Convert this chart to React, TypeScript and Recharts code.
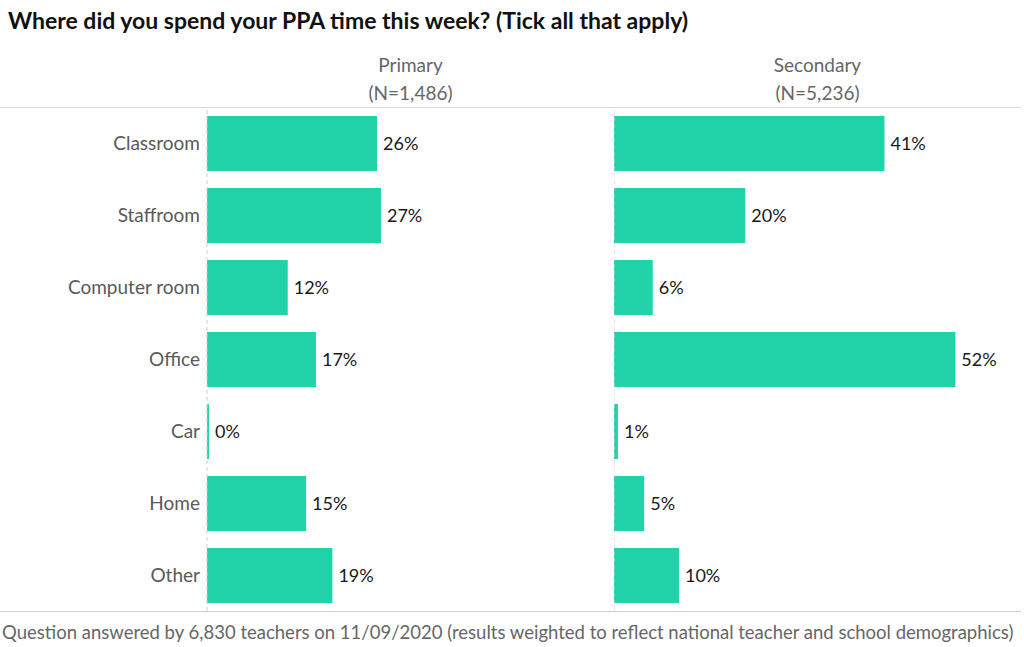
import React from 'react';
import { BarChart, Bar, XAxis, YAxis, LabelList, ReferenceLine } from 'recharts';

const categories = ['Classroom', 'Staffroom', 'Computer room', 'Office', 'Car', 'Home', 'Other'];
const primaryValues = [25.9, 26.5, 12.3, 16.6, 0.3, 15.1, 19.1];
const secondaryValues = [41.2, 20.0, 5.9, 52.0, 0.6, 4.6, 9.9];

const primaryData = categories.map((name, i) => ({ name, value: primaryValues[i] }));
const secondaryData = categories.map((name, i) => ({ name, value: secondaryValues[i] }));

const FONT = 'Lato, "Open Sans", sans-serif';
const GREEN = '#20d3a8';

const pct = (v: any) => `${Math.round(Number(v))}%`;

const Panel = ({ data, showAxis, width }: { data: any[]; showAxis: boolean; width: number }) => (
  <BarChart
    width={width}
    height={504}
    data={data}
    layout="vertical"
    margin={{ top: 0, right: 0, bottom: 0, left: 0 }}
    barSize={55}
  >
    <XAxis type="number" domain={[0, 62]} hide />
    <YAxis
      type="category"
      dataKey="name"
      width={showAxis ? 207 : 0}
      hide={!showAxis}
      axisLine={false}
      tickLine={false}
      tickMargin={1}
      tick={{ fill: '#595959', fontSize: 19, fontFamily: FONT }}
    />
    <ReferenceLine x={0} stroke="#cfcfcf" strokeDasharray="4 3" />
    <Bar dataKey="value" fill={GREEN} isAnimationActive={false}>
      <LabelList
        dataKey="value"
        position="right"
        offset={6}
        formatter={pct}
        style={{ fill: '#1a1a1a', fontSize: 18, fontFamily: FONT }}
      />
    </Bar>
  </BarChart>
);

const headerStyle: React.CSSProperties = {
  position: 'absolute',
  top: 51,
  width: 407,
  textAlign: 'center',
  fontSize: 19,
  lineHeight: '28px',
  color: '#666',
};

export default function App() {
  return (
    <div
      style={{
        position: 'absolute',
        left: 0,
        top: 0,
        width: 1024,
        height: 647,
        background: '#fff',
        fontFamily: FONT,
        overflow: 'hidden',
      }}
    >
      <div style={{ position: 'absolute', left: 8, top: 6, fontSize: 23, fontWeight: 700, color: '#111' }}>
        Where did you spend your PPA time this week? (Tick all that apply)
      </div>
      <div style={{ ...headerStyle, left: 207 }}>
        Primary
        <br />
        (N=1,486)
      </div>
      <div style={{ ...headerStyle, left: 614 }}>
        Secondary
        <br />
        (N=5,236)
      </div>
      <div style={{ position: 'absolute', left: 0, top: 107, width: 1021, height: 1, background: '#dcdcdc' }} />
      <div style={{ position: 'absolute', left: 0, top: 107 }}>
        <Panel data={primaryData} showAxis width={614} />
      </div>
      <div style={{ position: 'absolute', left: 614, top: 107 }}>
        <Panel data={secondaryData} showAxis={false} width={407} />
      </div>
      <div style={{ position: 'absolute', left: 0, top: 611, width: 1021, height: 1, background: '#cfcfcf' }} />
      <div style={{ position: 'absolute', left: 2, top: 621, fontSize: 18.5, color: '#666', whiteSpace: 'nowrap' }}>
        Question answered by 6,830 teachers on 11/09/2020 (results weighted to reflect national teacher and school demographics)
      </div>
    </div>
  );
}
